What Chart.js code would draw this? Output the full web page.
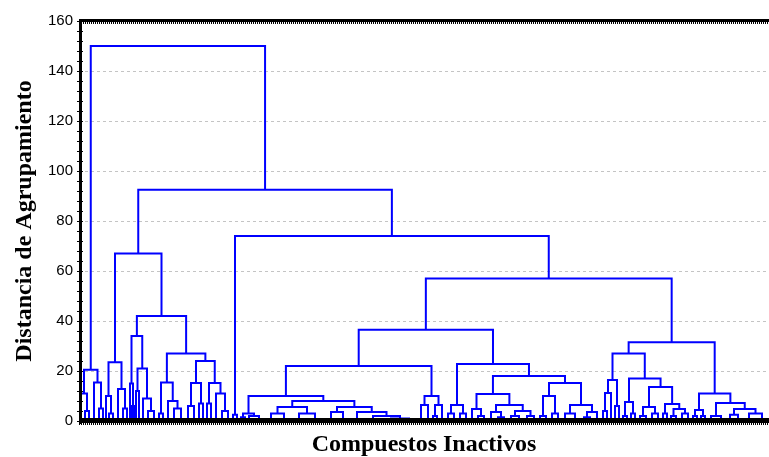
<!DOCTYPE html>
<html>
<head>
<meta charset="utf-8">
<script src="https://cdn.jsdelivr.net/npm/chart.js@4"></script>
<style>
  html, body { margin: 0; padding: 0; background: #fff; }
</style>
</head>
<body>
<canvas id="dendroChart" width="769" height="457"></canvas>
<script>
// merge = [distance, left, right]; a plain number is a group of compounds
// joined at ~0 distance (its value = number of compounds in the group)
var clusterA     = [20.5, [11, 2, [4, 2, 2]], [15.4, 3, [5, 2, 2]]];
var clusterB1a   = [23.5, [10, 1, [3, 2, 2]], [12.8, 3, [5, 2, 2]]];
var clusterB1b1  = [34, [15, 1, [6, 1, 1]], [21, [12, 1, 2], [9, 2, [4, 3, 3]]]];
var clusterB1b2a = [15.4, [3, 2, 2], [8, 3, [5, 3, 4]]];
var clusterB1b2b = [24, [15.2, [6, 3, 3], [7, 2, 2]], [15.2, [7, 2, 2], [11, 3, [4, 3, 3]]]];
var clusterB2    = [2.5, 2, 2];
var clusterC1    = [3, [1.5, 2, 2], [2, 2, 8]];
var clusterC2    = [8, [5.6, [3, 4, 9], [3, 6, 10]], [5.6, [3.6, 6, 6], [3.6, 8, [2, 8, [1, 10, 8]]]]];
var clusterC3    = [10, [6.4, 4, 3], [6.4, [2, 2, 2], 3]];
var clusterD1    = [6.4, [3, 3, 3], [3, 3, 3]];
var clusterD2    = [10.8, [4.8, 3, [2, 3, 3]], [6.4, [3.6, 4, [1.5, 3, 3]], [4, [2, 4, 4], [2, 4, 3]]]];
var clusterD3    = [15.2, [10, [2, 3, 3], [3, 3, 3]], [6.4, [3, 4, 6], [3.6, [1.5, 3, 3], 4]]];
var clusterE1    = [16.4, [11.2, [4, 2, 2], 2], [6, 2, 2]];
var clusterE2    = [17, [7.6, [2, 2, 2], [3, 2, 2]], [13.6, [5.6, [2, 3, 3], [3, 3, 3]], [6.8, [3, 2, 2], [4.8, [2, 2, 3], [3, 3, 3]]]]];
var clusterE3    = [11, [4.4, [2, 2, 2], [2, 2, 2]], [7.2, [2, 4, 6], [4.8, [2.5, 3, 5], [3, 6, 7]]]];

// upper part of the tree
var groupB1 = [67, clusterB1a, [42, clusterB1b1, [27, clusterB1b2a, clusterB1b2b]]];
var groupC  = [22, [10, clusterC1, clusterC2], clusterC3];
var groupD  = [22.8, clusterD1, [18, clusterD2, clusterD3]];
var groupE  = [31.5, [27, clusterE1, clusterE2], clusterE3];
var tree    = [150, clusterA, [92.5, groupB1, [74, clusterB2, [57, [36.5, groupC, groupD], groupE]]]];

var distanceTicks = [0, 20, 40, 60, 80, 100, 120, 140, 160];
var minorStep = 4;
var xTitle = 'Compuestos Inactivos';
var yTitle = 'Distancia de Agrupamiento';

// walk the tree, each merge gives a U shaped link
var links = [];
function place(node, start) {
	if (typeof node === 'number') {
		return {x: start + node / 2, h: 0, end: start + node};
	}
	var l = place(node[1], start);
	var r = place(node[2], l.end);
	links.push({x: l.x, y: l.h}, {x: l.x, y: node[0]}, {x: r.x, y: node[0]}, {x: r.x, y: r.h}, {x: r.x, y: null});
	return {x: (l.x + r.x) / 2, h: node[0], end: r.end};
}
var total = place(tree, 0).end;

var framePlugin = {
	id: 'frame',
	afterDatasetsDraw: function(chart) {
		var ctx = chart.ctx, a = chart.chartArea;
		var xs = chart.scales.x, ys = chart.scales.y;
		ctx.save();
		ctx.fillStyle = '#000';
		ctx.fillRect(a.left, a.top - 2, a.right - a.left, 3);
		ctx.fillRect(a.left, a.bottom - 3, a.right - a.left, 5);
		for (var i = 0; i <= total; i++) {
			var px = Math.round(xs.getPixelForValue(i));
			ctx.fillRect(px, a.top + 1, 1, 2);
			ctx.fillRect(px, a.bottom + 2, 1, 2);
		}
		ctx.fillRect(a.left, a.top - 2, 3, a.bottom - a.top + 5);
		for (var v = 0; v <= ys.max; v += minorStep) {
			var py = Math.round(ys.getPixelForValue(v));
			ctx.fillRect(a.left - 2, py, 6, 1);
		}
		ctx.restore();
	}
};

var ctx = document.getElementById('dendroChart').getContext('2d');
var dendroChart = new Chart(ctx, {
	type: 'scatter',
	data: {
		datasets: [{
			data: links,
			showLine: true,
			spanGaps: false,
			borderColor: '#0000ff',
			borderWidth: 2,
			borderCapStyle: 'square',
			borderJoinStyle: 'miter',
			pointRadius: 0,
			pointHoverRadius: 0
		}]
	},
	options: {
		responsive: false,
		animation: false,
		layout: { padding: { top: 21, right: 0, bottom: 0, left: 0 } },
		plugins: { legend: { display: false }, tooltip: { enabled: false } },
		scales: {
			x: {
				type: 'linear',
				min: 0,
				max: total,
				grid: { display: false },
				border: { display: false },
				ticks: { display: false },
				title: {
					display: true,
					text: xTitle,
					color: '#000',
					font: { family: 'Liberation Serif', size: 24, weight: 'bold' },
					padding: { top: 0, bottom: -2 }
				},
				afterFit: function(scale) { scale.height = 36; }
			},
			y: {
				min: 0,
				max: 160,
				afterBuildTicks: function(scale) {
					scale.ticks = distanceTicks.map(function(v) { return {value: v}; });
				},
				grid: {
					drawTicks: false,
					color: function(c) {
						var v = c.tick ? c.tick.value : 0;
						return (v === 0 || v === 160) ? 'rgba(0,0,0,0)' : '#c4c4c4';
					},
					lineWidth: 1
				},
				border: { display: false, dash: [3, 3] },
				ticks: {
					color: '#000',
					padding: 6,
					font: { family: 'Liberation Sans', size: 15 }
				},
				title: {
					display: true,
					text: yTitle,
					color: '#000',
					font: { family: 'Liberation Serif', size: 24, weight: 'bold' },
					padding: { top: 10, bottom: 0 }
				},
				afterFit: function(scale) { scale.width = 79; }
			}
		}
	},
	plugins: [framePlugin]
});
</script>
</body>
</html>
